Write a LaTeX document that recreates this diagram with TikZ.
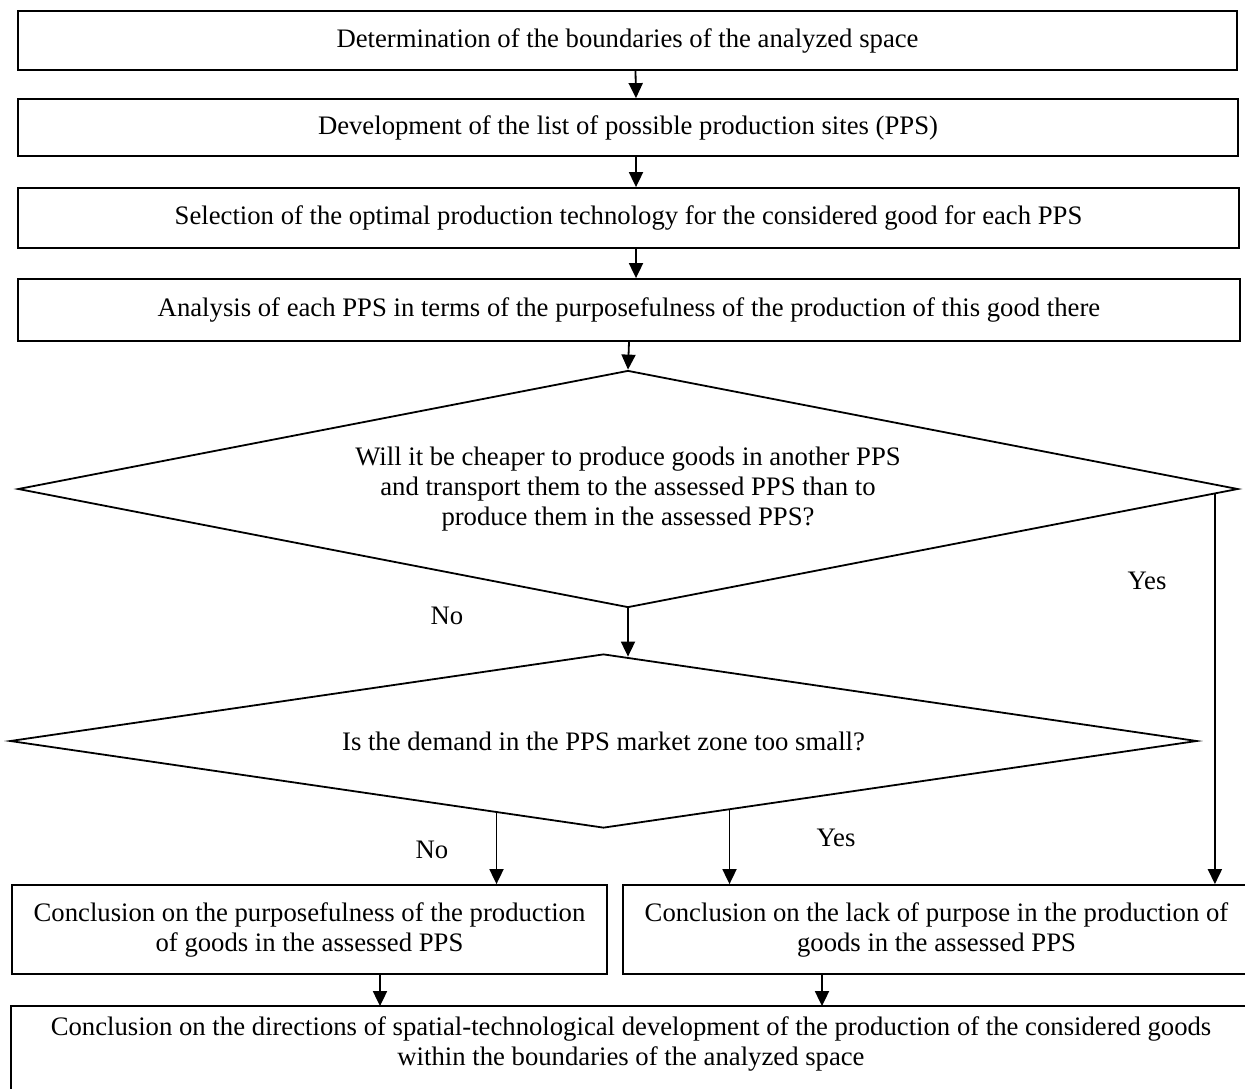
\documentclass[tikz,border=0pt]{standalone}
\usepackage{fontspec}
\setmainfont{Liberation Serif}
\usetikzlibrary{shapes.geometric,arrows.meta,calc}
\begin{document}
\begin{tikzpicture}[x=1pt,y=-1pt,
  every node/.style={font=\fontsize{26.7}{30}\selectfont},
  box/.style={draw, line width=1.8pt, inner sep=0pt, align=center},
  dia/.style={draw, diamond, line width=1.8pt, inner sep=0pt, align=center},
  arr/.style={line width=1.8pt, -{Triangle[length=15pt,width=14pt]}},
  lbl/.style={inner sep=0pt}]
\clip (0,0) rectangle (1245,1088);
\fill[white] (0,0) rectangle (1245,1088);

\node[box, minimum width=1219, minimum height=59] (b1) at (627.5,40.5)
  {Determination of the boundaries of the analyzed space};
\node[box, minimum width=1220, minimum height=57] (b2) at (628,127.5)
  {Development of the list of possible production sites (PPS)};
\node[box, minimum width=1221, minimum height=60] (b3) at (628.5,218)
  {Selection of the optimal production technology for the considered good for each PPS};
\node[box, minimum width=1222, minimum height=62] (b4) at (629,310)
  {Analysis of each PPS in terms of the purposefulness of the production of this good there};

\node[dia, shape aspect=5.148, minimum width=1220, minimum height=237] (d1) at (628,489)
  {Will it be cheaper to produce goods in another PPS\\and transport them to the assessed PPS than to\\produce them in the assessed PPS?};
\node[dia, shape aspect=6.822, minimum width=1187, minimum height=174] (d2) at (603.5,741)
  {Is the demand in the PPS market zone too small?};

\node[box, minimum width=595, minimum height=89] (lb) at (309.5,929.5)
  {Conclusion on the purposefulness of the production\\of goods in the assessed PPS};
\node[box, minimum width=627, minimum height=89] (rb) at (936.5,929.5)
  {Conclusion on the lack of purpose in the production of\\goods in the assessed PPS};

\node[box, draw=none, minimum width=1238, minimum height=73] (bot) at (631,1043.5)
  {Conclusion on the directions of spatial-technological development of the production of the considered goods\\within the boundaries of the analyzed space};
\draw[line width=1.8pt] (bot.north west) rectangle ($(bot.south east)+(0,20)$);

\draw[arr] ([xshift=8pt]b1.south) -- ([xshift=8pt]b2.north);
\draw[arr] ([xshift=8pt]b2.south) -- ([xshift=7.5pt]b3.north);
\draw[arr] ([xshift=7.5pt]b3.south) -- ([xshift=7pt]b4.north);
\draw[arr] (b4.south) -- (d1.north);
\draw[arr] (d1.south) -- ($(d1.south |- d2.north)+(0,3.5)$);

\coordinate (ys) at ($(d1.east)+(-24,4.7)$);
\draw[arr] (ys) -- (ys |- rb.north);
\coordinate (ns) at ($(d2.south)+(-107,-15.6)$);
\draw[arr] (ns) -- (ns |- lb.north);
\coordinate (yb) at ($(d2.south)+(126,-18.5)$);
\draw[arr] (yb) -- (yb |- rb.north);

\draw[arr] ([xshift=70.5pt]lb.south) -- ([xshift=70.5pt]lb.south |- bot.north);
\draw[arr] ([xshift=-114.5pt]rb.south) -- ([xshift=-114.5pt]rb.south |- bot.north);

\node[lbl] (no1) at (447,616) {No};
\node[lbl] (yes1) at (1147,581) {Yes};
\node[lbl] (no2) at (432,850) {No};
\node[lbl] (yes2) at (836,838) {Yes};
\end{tikzpicture}
\end{document}
